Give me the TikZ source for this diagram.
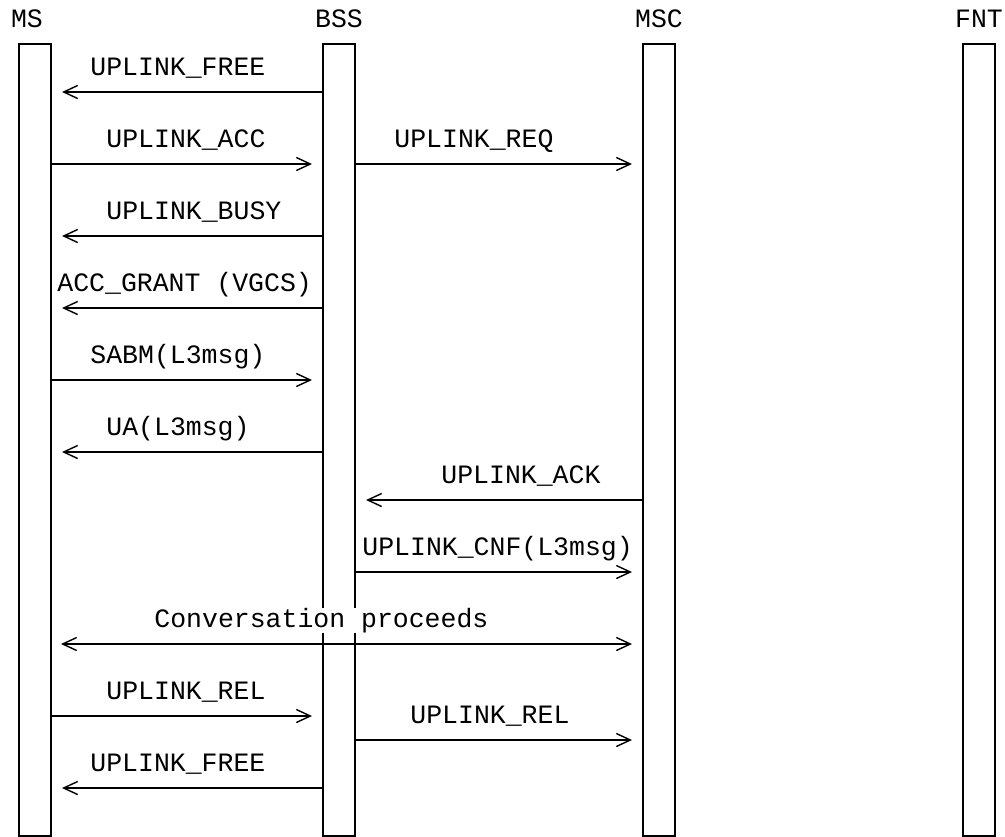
\documentclass[tikz,border=0pt]{standalone}
\usepackage{fontspec}
\newfontfamily\msgfont{Liberation Mono}
\usetikzlibrary{arrows.meta, positioning}

\begin{document}
\begin{tikzpicture}[
    x=0.5pt, y=-0.5pt,
    font=\msgfont\fontsize{13.25}{15}\selectfont,
    lifebox/.style={draw, line width=1pt, anchor=north, minimum width=16pt, minimum height=396pt, inner sep=0pt},
    head/.style={anchor=base, inner sep=0pt},
    lbl/.style={anchor=base west, inner sep=0pt, fill=white},
    msg/.style={line width=1pt, -{Straight Barb[length=7pt, width=6.5pt, line width=0.7pt]}, shorten >=5pt},
    convmsg/.style={line width=1pt, {Straight Barb[length=7pt, width=6.5pt, line width=0.7pt]}-{Straight Barb[length=7pt, width=6.5pt, line width=0.7pt]}, shorten >=5pt, shorten <=4.5pt}
]
  \useasboundingbox (0,0) rectangle (1005,836);

  % lifelines
  \node[lifebox] (ms)  at (35,43)  {};
  \node[lifebox] (bss) at (339,43) {};
  \node[lifebox] (msc) at (659,43) {};
  \node[lifebox] (fnt) at (979,43) {};

  \node[head] (hms)  at (27,27)  {MS};
  \node[head] (hbss) at (339,27) {BSS};
  \node[head] (hmsc) at (659,27) {MSC};
  \node[head] (hfnt) at (979,27) {FNT};

  % messages
  \draw[msg] (bss.west |- 0,92)  -- (ms.east |- 0,92);
  \draw[msg] (ms.east |- 0,164)  -- (bss.west |- 0,164);
  \draw[msg] (bss.east |- 0,164) -- (msc.west |- 0,164);
  \draw[msg] (bss.west |- 0,236) -- (ms.east |- 0,236);
  \draw[msg] (bss.west |- 0,308) -- (ms.east |- 0,308);
  \draw[msg] (ms.east |- 0,380)  -- (bss.west |- 0,380);
  \draw[msg] (bss.west |- 0,452) -- (ms.east |- 0,452);
  \draw[msg] (msc.west |- 0,500) -- (bss.east |- 0,500);
  \draw[msg] (bss.east |- 0,572) -- (msc.west |- 0,572);
  \draw[convmsg] (ms.east |- 0,644) -- (msc.west |- 0,644);
  \draw[msg] (ms.east |- 0,716)  -- (bss.west |- 0,716);
  \draw[msg] (bss.east |- 0,740) -- (msc.west |- 0,740);
  \draw[msg] (bss.west |- 0,788) -- (ms.east |- 0,788);

  % labels
  \node[lbl] (m1)  at (90,75)   {UPLINK\_FREE};
  \node[lbl] (m2)  at (106,147) {UPLINK\_ACC};
  \node[lbl] (m3)  at (394,147) {UPLINK\_REQ};
  \node[lbl] (m4)  at (106,219) {UPLINK\_BUSY};
  \node[lbl] (m5)  at (57,291)  {ACC\_GRANT (VGCS)};
  \node[lbl] (m6)  at (90,363)  {SABM(L3msg)};
  \node[lbl] (m7)  at (106,435) {UA(L3msg)};
  \node[lbl] (m8)  at (441,483) {UPLINK\_ACK};
  \node[lbl] (m9)  at (362,555) {UPLINK\_CNF(L3msg)};
  \node[lbl] (m10) at (154,627) {Conversation proceeds};
  \node[lbl] (m11) at (106,699) {UPLINK\_REL};
  \node[lbl] (m12) at (410,723) {UPLINK\_REL};
  \node[lbl] (m13) at (90,771)  {UPLINK\_FREE};
\end{tikzpicture}
\end{document}
